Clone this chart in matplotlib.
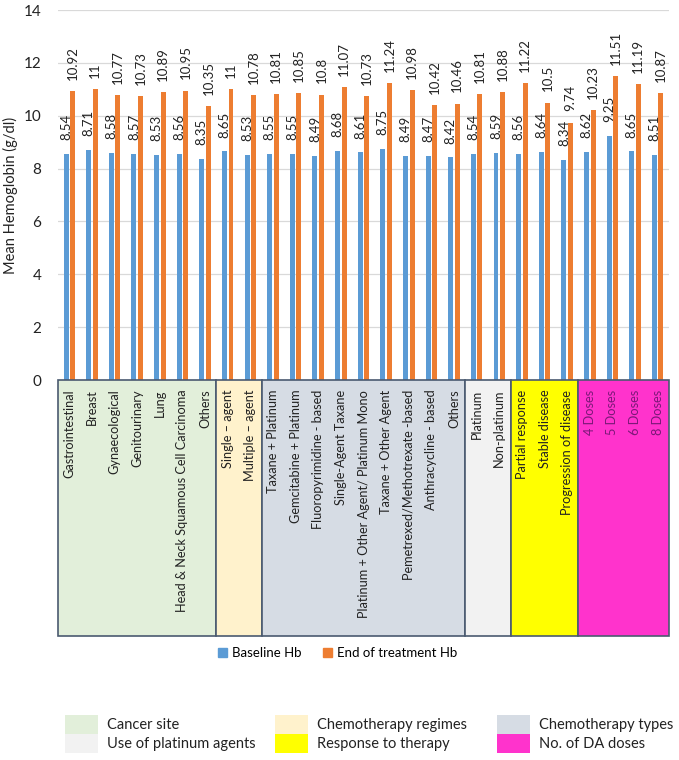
"""Mean haemoglobin at baseline vs end of treatment, grouped by category (bar chart + group boxes)."""
import matplotlib

matplotlib.use("Agg")
import matplotlib.pyplot as plt
from matplotlib.patches import Patch, Rectangle

plt.rcParams["font.family"] = ["Lato", "DejaVu Sans"]

CATEGORIES = [
    "Gastrointestinal", "Breast", "Gynaecological", "Genitourinary", "Lung",
    "Head & Neck Squamous Cell Carcinoma", "Others",
    "Single \u2013 agent", "Multiple \u2013 agent",
    "Taxane + Platinum", "Gemcitabine + Platinum", "Fluoropyrimidine - based",
    "Single-Agent Taxane", "Platinum + Other Agent/ Platinum Mono",
    "Taxane + Other Agent", "Pemetrexed/Methotrexate -based",
    "Anthracycline - based", "Others",
    "Platinum", "Non-platinum",
    "Partial response", "Stable disease", "Progression of disease",
    "4 Doses", "5 Doses", "6 Doses", "8 Doses",
]
BASELINE = [8.54, 8.71, 8.58, 8.57, 8.53, 8.56, 8.35, 8.65, 8.53, 8.55, 8.55,
            8.49, 8.68, 8.61, 8.75, 8.49, 8.47, 8.42, 8.54, 8.59, 8.56, 8.64,
            8.34, 8.62, 9.25, 8.65, 8.51]
END_TX = [10.92, 11, 10.77, 10.73, 10.89, 10.95, 10.35, 11, 10.78, 10.81, 10.85,
          10.8, 11.07, 10.73, 11.24, 10.98, 10.42, 10.46, 10.81, 10.88, 11.22,
          10.5, 9.74, 10.23, 11.51, 11.19, 10.87]

GROUP_NAMES = ["Cancer site", "Chemotherapy regimes", "Chemotherapy types",
               "Use of platinum agents", "Response to therapy", "No. of DA doses"]
GROUP_SIZES = [7, 2, 9, 2, 3, 4]
GROUP_COLORS = ["#e2efda", "#fff2cc", "#d6dce4", "#f2f2f2", "#ffff00", "#ff33cc"]

BLUE = "#5b9bd5"
ORANGE = "#ed7d31"
EDGE = "#4a5a70"
TXT = "#222222"

W, H = 679, 760
fig = plt.figure(figsize=(W / 100, H / 100), dpi=100)

# --- bars ---
ax = fig.add_axes([58 / W, 1 - 380 / H, 611 / W, 370 / H])
n = len(CATEGORIES)
xs = list(range(n))
bw = 0.22
off = 0.145
ax.bar([x - off for x in xs], BASELINE, width=bw, color=BLUE, zorder=3)
ax.bar([x + off for x in xs], END_TX, width=bw, color=ORANGE, zorder=3)
for x, b, e in zip(xs, BASELINE, END_TX):
    ax.annotate(f"{b:g}", xy=(x - off, b), xytext=(0, 10), textcoords="offset points",
                rotation=90, ha="center", va="bottom", fontsize=9.5, color=TXT)
    ax.annotate(f"{e:g}", xy=(x + off, e), xytext=(0, 8), textcoords="offset points",
                rotation=90, ha="center", va="bottom", fontsize=9.5, color=TXT)

ax.set_xlim(-0.5, n - 0.5)
ax.set_ylim(0, 14)
ax.set_yticks(range(0, 15, 2))
ax.set_xticks([])
ax.tick_params(axis="y", length=0, pad=12, labelsize=11, colors=TXT)
ax.grid(axis="y", color="#d9d9d9", linewidth=0.9, zorder=0)
ax.set_axisbelow(True)
for s in ax.spines.values():
    s.set_visible(False)
ax.set_ylabel("Mean Hemoglobin (g/dl)", fontsize=10.5, color=TXT, labelpad=4)

# --- group boxes with category names ---
bx = fig.add_axes([58 / W, 1 - 636 / H, 611 / W, 256 / H])
bx.set_xlim(-0.5, n - 0.5)
bx.set_ylim(0, 1)
bx.axis("off")
start = 0
for size, col in zip(GROUP_SIZES, GROUP_COLORS):
    bx.add_patch(Rectangle((start - 0.5, 0), size, 1, facecolor=col,
                           edgecolor=EDGE, linewidth=1.2, clip_on=False))
    start += size
dose_start = sum(GROUP_SIZES[:-1])
for i, name in enumerate(CATEGORIES):
    color = "#7b1878" if i >= dose_start else TXT
    bx.text(i, 0.962, name, rotation=90, rotation_mode="anchor", ha="right",
            va="center", fontsize=9.2, color=color)

# --- series legend ---
fig.legend(handles=[Patch(color=BLUE, label="Baseline Hb"),
                    Patch(color=ORANGE, label="End of treatment Hb")],
           loc="center", bbox_to_anchor=(0.497, 1 - 653 / H), ncol=2,
           frameon=False, fontsize=9.5, handlelength=0.7, handleheight=0.7,
           handletextpad=0.4, columnspacing=1.6)

# --- group colour key ---
col_x = [65, 275, 497]
row_y = [715, 734]
for k, (name, col) in enumerate(zip(GROUP_NAMES, GROUP_COLORS)):
    cx = col_x[k % 3]
    ry = row_y[k // 3]
    fig.patches.append(Rectangle((cx / W, 1 - (ry + 19) / H), 33 / W, 19 / H,
                                 facecolor=col, edgecolor="none",
                                 transform=fig.transFigure, figure=fig))
    fig.text((cx + 42) / W, 1 - (ry + 10) / H, name, ha="left", va="center",
             fontsize=10.5, color=TXT)

fig.savefig("out.png", dpi=100, facecolor="white")
